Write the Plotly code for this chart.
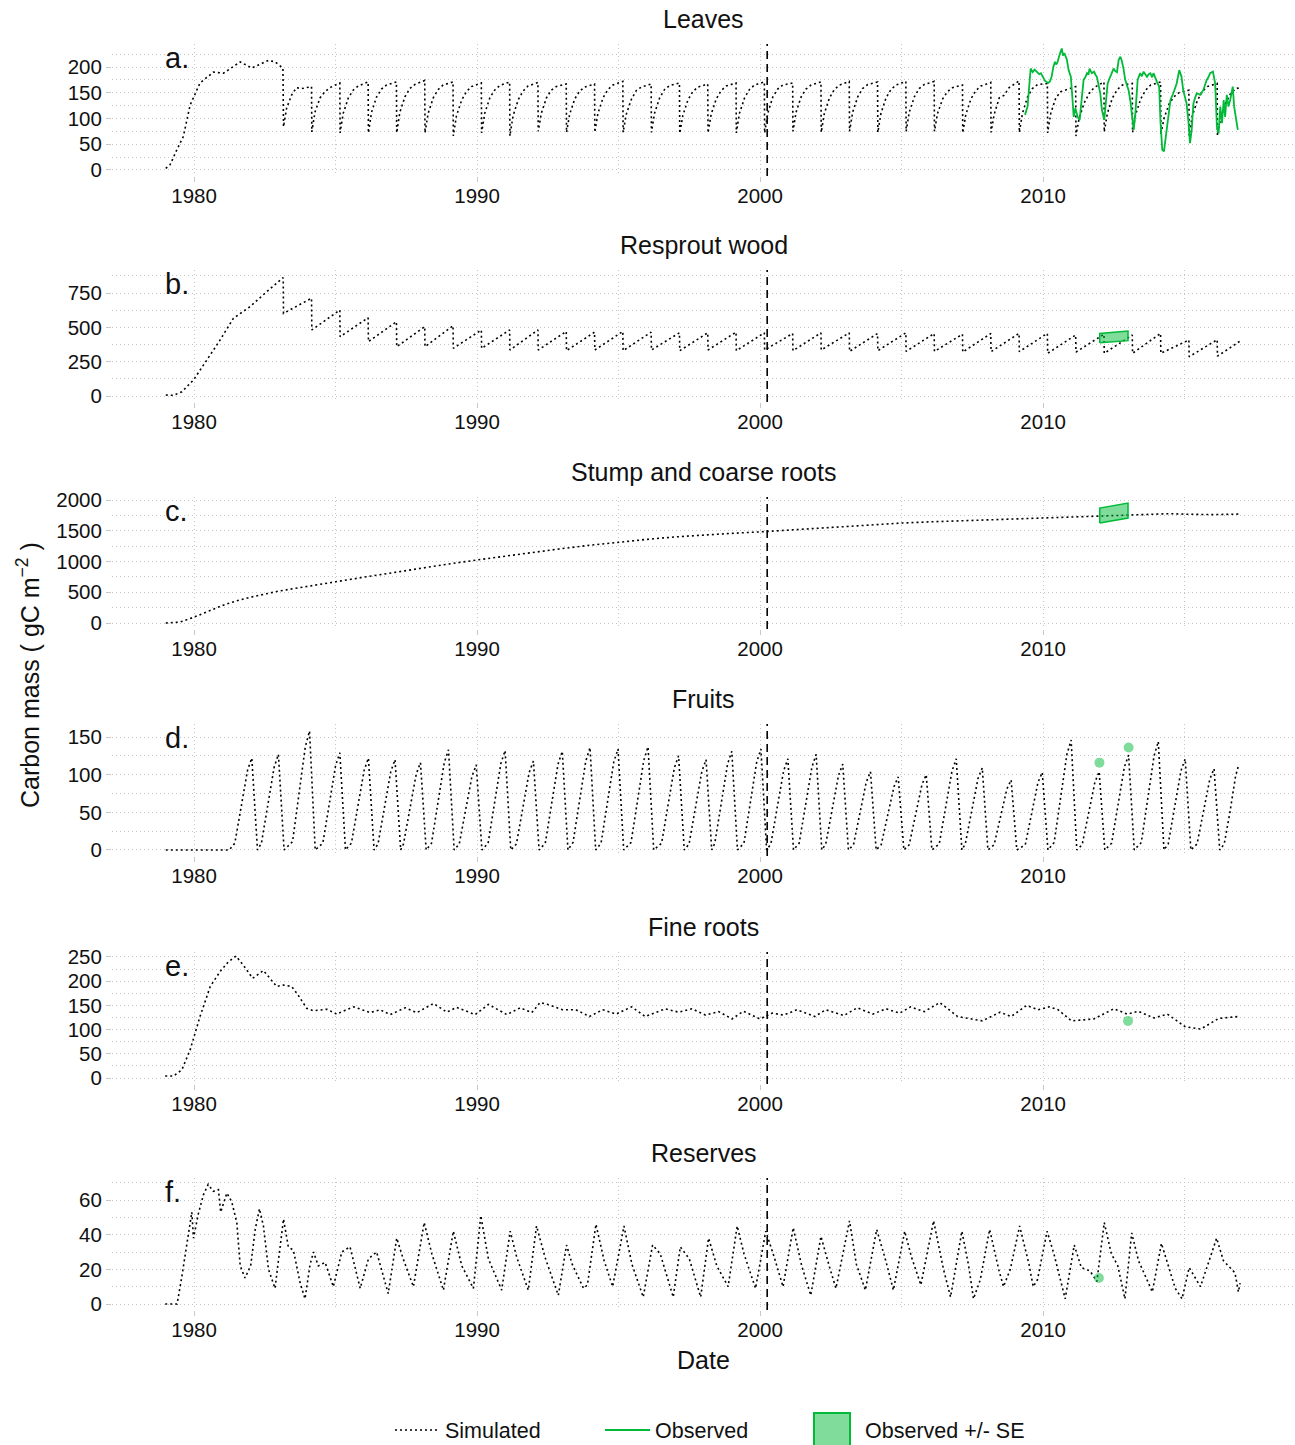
import plotly.graph_objects as go

# ------------------------------------------------------------------ data
# a. Leaves (simulated): establishment phase, then yearly cycles (drop ~ Y+0.15)
leaves_init_t = [1979.0, 1979.15, 1979.39, 1979.62, 1979.86, 1980.21, 1980.68, 1981.04,
                 1981.63, 1982.04, 1982.63, 1982.86, 1983.14]
leaves_init_v = [3, 10, 39, 65, 126, 169, 190, 188, 210, 198, 213, 210, 198]
cycle_years = list(range(1983, 2017))
leaves_phase = [0.16, 0.27, 0.45, 0.62, 0.80]
leaves_low = [84, 74, 72, 72, 72, 72, 66, 72, 66, 75, 73, 73, 73, 73, 71, 72, 72, 72, 75, 73,
              75, 73, 75, 75, 72, 73, 73, 72, 66, 74, 73, 69, 67, 67]
leaves_r1 = [120, 112, 110, 112, 112, 110, 105, 110, 105, 110, 108, 110, 108, 110, 106, 108, 110,
             110, 112, 110, 112, 110, 112, 110, 108, 108, 110, 110, 100, 110, 108, 100, 105, 100]
leaves_r2 = [146, 140, 140, 142, 142, 140, 135, 140, 136, 140, 138, 140, 137, 140, 136, 138, 140,
             142, 142, 140, 142, 140, 142, 138, 138, 140, 142, 140, 130, 140, 138, 128, 135, 130]
leaves_r3 = [160, 152, 155, 157, 158, 156, 152, 155, 153, 155, 153, 156, 154, 156, 152, 154, 156,
             157, 157, 156, 158, 156, 158, 152, 154, 145, 158, 152, 148, 156, 155, 142, 152, 148]
leaves_r4 = [158, 160, 163, 165, 166, 165, 162, 164, 163, 162, 161, 165, 161, 164, 161, 163, 165,
             165, 165, 165, 166, 165, 166, 160, 163, 160, 166, 155, 160, 165, 165, 150, 162, 158]
leaves_peak = [162, 169, 171, 171, 174, 171, 169, 171, 170, 167, 167, 172, 167, 169, 167, 169, 171,
               169, 171, 172, 171, 172, 172, 165, 170, 173, 168, 162, 171, 168, 171, 155, 168, 160]
peak_phase = 1.15          # peak just before next year's drop
series_end = 2016.96

# a. Leaves (observed)
leaves_obs_t = [2009.36, 2009.45, 2009.56, 2009.63, 2009.70, 2009.76, 2009.86, 2009.92, 2009.98,
                2010.07, 2010.18, 2010.24, 2010.30, 2010.36, 2010.42, 2010.46, 2010.50, 2010.55,
                2010.60, 2010.66, 2010.70, 2010.75, 2010.84, 2010.90, 2010.98, 2011.04, 2011.08,
                2011.14, 2011.22, 2011.29, 2011.37, 2011.43, 2011.49, 2011.55, 2011.60, 2011.64,
                2011.72, 2011.80, 2011.85, 2011.90, 2012.02, 2012.08, 2012.16, 2012.20, 2012.28,
                2012.37, 2012.43, 2012.49, 2012.55, 2012.61, 2012.67, 2012.73, 2012.78, 2012.84,
                2012.90, 2013.02, 2013.08, 2013.14, 2013.20, 2013.26, 2013.34, 2013.43, 2013.49,
                2013.55, 2013.61, 2013.67, 2013.73, 2013.79, 2013.85, 2013.90, 2014.02, 2014.10,
                2014.15, 2014.21, 2014.27, 2014.34, 2014.42, 2014.50, 2014.60, 2014.66, 2014.72,
                2014.81, 2014.89, 2014.95, 2015.07, 2015.13, 2015.19, 2015.25, 2015.31, 2015.37,
                2015.43, 2015.55, 2015.66, 2015.72, 2015.78, 2015.84, 2015.90, 2016.00, 2016.08,
                2016.14, 2016.20, 2016.26, 2016.32, 2016.38, 2016.43, 2016.49, 2016.55, 2016.61,
                2016.66, 2016.70, 2016.75, 2016.82, 2016.88]
leaves_obs_v = [107, 123, 197, 190, 195, 192, 186, 188, 183, 173, 169, 172, 181, 200, 210, 205,
                208, 220, 227, 236, 222, 227, 214, 194, 181, 136, 103, 120, 103, 97, 136, 175,
                180, 188, 185, 197, 188, 191, 185, 181, 149, 116, 97, 123, 168, 181, 190, 197,
                192, 190, 214, 220, 212, 197, 175, 155, 135, 103, 78, 110, 175, 188, 182, 191,
                185, 181, 186, 188, 180, 188, 171, 162, 91, 39, 36, 65, 103, 136, 149, 160, 168,
                194, 181, 155, 129, 97, 52, 78, 129, 140, 149, 146, 155, 165, 175, 180, 188, 191,
                168, 84, 71, 123, 91, 136, 103, 146, 123, 136, 150, 162, 123, 97, 78]

# b. Resprout wood
wood_init_t = [1979.0, 1979.27, 1979.57, 1979.98, 1980.45, 1980.92, 1981.39, 1981.98, 1982.57, 1983.15]
wood_init_v = [7, 5, 31, 117, 262, 408, 566, 651, 760, 862]
wood_low = [602, 481, 432, 396, 359, 359, 347, 347, 335, 335, 330, 335, 330, 335, 330, 335, 330,
            335, 330, 335, 325, 330, 325, 325, 320, 323, 323, 311, 320, 311, 311, 311, 286, 290]
wood_peak = [712, 626, 570, 541, 505, 512, 481, 481, 481, 470, 465, 470, 465, 460, 460, 465, 460,
             455, 460, 460, 455, 460, 455, 450, 455, 456, 456, 444, 450, 444, 456, 408, 410, 400]

# c. Stump and coarse roots
stump_t = [1979.0, 1979.5, 1980.0, 1980.5, 1981.0, 1981.5, 1982.0, 1983.0, 1984.0, 1985.0, 1986.0,
           1987.0, 1988.0, 1989.0, 1990.0, 1991.0, 1992.0, 1993.0, 1994.0, 1995.0, 1996.0, 1997.0,
           1998.0, 1999.0, 2000.0, 2001.0, 2002.0, 2003.0, 2004.0, 2005.0, 2006.0, 2007.0, 2008.0,
           2009.0, 2010.0, 2011.0, 2012.0, 2013.0, 2014.0, 2014.5, 2015.0, 2015.5, 2016.0, 2016.96]
stump_v = [0, 15, 95, 190, 285, 360, 420, 520, 600, 670, 745, 820, 890, 960, 1025, 1090, 1150,
           1210, 1265, 1315, 1360, 1400, 1432, 1458, 1482, 1510, 1545, 1575, 1600, 1625, 1645,
           1662, 1678, 1695, 1712, 1728, 1745, 1760, 1775, 1778, 1770, 1760, 1762, 1772]

# observed +/- SE (wood and stump)
se_t = [2012.0, 2013.0]
wood_se_low = [388, 403]
wood_se_high = [456, 473]
stump_se_low = [1626, 1707]
stump_se_high = [1870, 1951]

# d. Fruits: peak dates/values with rising and falling shoulders
fruit_pre_t = [1979.0, 1981.24]
fruit_pre_v = [0, 0]
fruit_peak_t = [1982.04, 1982.98, 1984.08, 1985.15, 1986.16, 1987.10, 1988.00, 1988.99, 1989.97,
                1990.99, 1991.99, 1993.01, 1993.99, 1994.98, 1996.04, 1997.12, 1998.09, 1999.00,
                2000.03, 2000.98, 2001.98, 2002.92, 2003.90, 2004.88, 2005.87, 2006.93, 2007.85,
                2008.87, 2009.97, 2010.99, 2011.98, 2013.02, 2014.07, 2015.02, 2016.04]
fruit_peak_v = [122, 127, 158, 129, 122, 120, 116, 133, 113, 132, 118, 131, 136, 134, 137, 125, 120,
                131, 134, 121, 127, 114, 104, 97, 100, 121, 109, 93, 103, 146, 104, 126, 144, 121,
                108]
fruit_r1 = [9, 9, 11, 9, 9, 8, 8, 9, 8, 9, 8, 9, 10, 9, 10, 9, 8, 9, 9, 8, 9, 8, 7, 7, 7, 8, 8, 7,
            7, 10, 7, 9, 10, 8, 8]
fruit_r2 = [55, 57, 71, 58, 55, 54, 52, 60, 51, 59, 53, 59, 61, 60, 62, 56, 54, 59, 60, 54, 57, 51,
            47, 44, 45, 54, 49, 42, 46, 66, 47, 57, 65, 54, 49]
fruit_r3 = [106, 110, 137, 112, 106, 104, 101, 116, 98, 115, 103, 114, 118, 117, 119, 109, 104, 114,
            117, 105, 110, 99, 90, 84, 87, 105, 95, 81, 90, 127, 90, 110, 125, 105, 94]
fruit_f1 = [61, 64, 79, 65, 61, 60, 58, 67, 57, 66, 59, 66, 68, 67, 69, 63, 60, 66, 67, 61, 64, 57,
            52, 49, 50, 61, 55, 47, 52, 73, 52, 63, 72, 61, 54]
fruit_phase = [-0.60, -0.38, -0.15, 0.0, 0.09, 0.20]
fruit_tail_t = [2016.40, 2016.60, 2016.80, 2016.91]
fruit_tail_v = [8, 50, 98, 113]
fruit_obs_t = [2011.99, 2013.02]
fruit_obs_v = [116, 136]

# e. Fine roots
root_t = [1978.98, 1979.27, 1979.57, 1979.86, 1980.21, 1980.57, 1980.92, 1981.21, 1981.48, 1981.74,
          1982.07, 1982.45, 1982.92, 1983.15, 1983.45, 1983.68, 1983.98, 1984.21, 1984.69, 1985.04,
          1985.34, 1985.65, 1986.22, 1986.57, 1986.93, 1987.46, 1987.87, 1988.46, 1988.93, 1989.28,
          1989.93, 1990.40, 1991.05, 1991.52, 1991.93, 1992.23, 1992.55, 1993.02, 1993.49, 1993.97,
          1994.44, 1994.91, 1995.46, 1995.94, 1996.65, 1997.12, 1997.59, 1998.07, 1998.54, 1999.01,
          1999.41, 1999.99, 2000.43, 2000.83, 2001.30, 2001.93, 2002.32, 2002.96, 2003.43, 2003.98,
          2004.45, 2004.93, 2005.32, 2005.80, 2006.35, 2006.98, 2007.85, 2008.48, 2008.87, 2009.42,
          2009.82, 2010.21, 2010.53, 2011.00, 2011.79, 2012.50, 2012.97, 2013.36, 2013.92, 2014.39,
          2015.02, 2015.57, 2016.20, 2016.91]
root_v = [4, 4, 17, 58, 127, 189, 220, 240, 252, 233, 206, 222, 189, 192, 189, 171, 144, 139, 142,
          132, 140, 147, 135, 141, 131, 145, 135, 154, 136, 146, 131, 152, 131, 145, 135, 156, 151,
          141, 141, 127, 141, 132, 147, 127, 143, 136, 143, 130, 137, 122, 138, 122, 134, 130, 141,
          127, 141, 129, 145, 132, 143, 134, 147, 137, 156, 127, 118, 136, 127, 150, 141, 147, 141,
          118, 122, 143, 132, 138, 124, 132, 106, 101, 123, 127]
root_obs_t = [2013.0]
root_obs_v = [118]

# f. Reserves
res_t = [1978.98, 1979.40, 1979.57, 1979.74, 1979.92, 1979.98, 1980.15, 1980.33, 1980.50, 1980.68,
         1980.86, 1980.94, 1981.16, 1981.33, 1981.51, 1981.63, 1981.80, 1982.00, 1982.16, 1982.31,
         1982.45, 1982.63, 1982.86, 1983.04, 1983.16, 1983.33, 1983.51, 1983.75, 1983.92, 1984.10,
         1984.22, 1984.39, 1984.63, 1984.92, 1985.22, 1985.51, 1985.87, 1986.16, 1986.45, 1986.86,
         1987.16, 1987.39, 1987.75, 1988.13, 1988.40, 1988.81, 1989.16, 1989.46, 1989.87, 1990.13,
         1990.40, 1990.87, 1991.17, 1991.40, 1991.81, 1992.10, 1992.40, 1992.87, 1993.16, 1993.36,
         1993.76, 1993.90, 1994.20, 1994.49, 1994.79, 1995.19, 1995.47, 1995.87, 1996.20, 1996.47,
         1996.93, 1997.18, 1997.50, 1997.90, 1998.18, 1998.47, 1998.87, 1999.19, 1999.43, 1999.84,
         2000.20, 2000.50, 2000.81, 2001.17, 2001.47, 2001.79, 2002.15, 2002.44, 2002.68, 2003.16,
         2003.40, 2003.72, 2004.12, 2004.44, 2004.71, 2005.11, 2005.35, 2005.68, 2006.13, 2006.48,
         2006.73, 2007.13, 2007.37, 2007.54, 2007.78, 2008.11, 2008.43, 2008.60, 2008.84, 2009.17,
         2009.50, 2009.65, 2009.80, 2010.14, 2010.38, 2010.78, 2011.10, 2011.35, 2011.66, 2011.90,
         2012.16, 2012.41, 2012.64, 2012.89, 2013.13, 2013.37, 2013.86, 2014.18, 2014.43, 2014.67,
         2014.91, 2015.16, 2015.56, 2016.13, 2016.37, 2016.78, 2016.90, 2016.96]
res_v = [0, 0, 16, 35, 53, 38, 52, 63, 69, 65, 66, 53, 64, 59, 47, 22, 15, 22, 43, 55, 45, 20, 9,
         33, 49, 33, 31, 12, 3, 23, 30, 22, 24, 10, 30, 33, 9, 26, 30, 6, 38, 26, 10, 47, 29, 8, 42,
         22, 9, 51, 26, 8, 42, 27, 8, 45, 27, 5, 34, 23, 9, 11, 46, 25, 10, 45, 23, 4, 34, 29, 4,
         33, 26, 4, 38, 22, 10, 45, 29, 9, 42, 27, 10, 44, 22, 5, 39, 22, 9, 48, 23, 8, 43, 25, 8,
         42, 27, 11, 48, 20, 4, 42, 22, 3, 14, 43, 20, 10, 20, 45, 23, 10, 14, 42, 29, 3, 34, 21,
         19, 13, 47, 29, 22, 3, 41, 25, 7, 35, 22, 9, 3, 21, 10, 38, 25, 18, 7, 12]
res_obs_t = [2011.97]
res_obs_v = [15]

titles = ["Leaves", "Resprout wood", "Stump and coarse roots", "Fruits", "Fine roots", "Reserves"]
letters = ["a.", "b.", "c.", "d.", "e.", "f."]
y_ticks = [[0, 50, 100, 150, 200], [0, 250, 500, 750], [0, 500, 1000, 1500, 2000],
           [0, 50, 100, 150], [0, 50, 100, 150, 200, 250], [0, 20, 40, 60]]
y_minor = [[25, 75, 125, 175, 225], [125, 375, 625, 875], [250, 750, 1250, 1750],
           [25, 75, 125], [25, 75, 125, 175, 225], [10, 30, 50, 70]]
x_ticks = [1980, 1990, 2000, 2010]
x_minor = [1985, 1995, 2005, 2015]
cut_date = 2000.25

# ------------------------------------------------------------------ assemble series
leaves_t, leaves_v = list(leaves_init_t), list(leaves_init_v)
for i, yr in enumerate(cycle_years):
    vals = [leaves_low[i], leaves_r1[i], leaves_r2[i], leaves_r3[i], leaves_r4[i]]
    for ph, v in zip(leaves_phase, vals):
        leaves_t.append(yr + ph)
        leaves_v.append(v)
    leaves_t.append(yr + peak_phase if yr < 2016 else series_end)
    leaves_v.append(leaves_peak[i])

wood_t, wood_v = list(wood_init_t), list(wood_init_v)
for i, yr in enumerate(cycle_years):
    wood_t.append(yr + 0.16)
    wood_v.append(wood_low[i])
    wood_t.append(yr + peak_phase if yr < 2016 else series_end)
    wood_v.append(wood_peak[i])

fruit_t, fruit_v = list(fruit_pre_t), list(fruit_pre_v)
for i, pt in enumerate(fruit_peak_t):
    vals = [fruit_r1[i], fruit_r2[i], fruit_r3[i], fruit_peak_v[i], fruit_f1[i], 0]
    for ph, v in zip(fruit_phase, vals):
        fruit_t.append(pt + ph)
        fruit_v.append(v)
fruit_t += fruit_tail_t
fruit_v += fruit_tail_v

sim = [(leaves_t, leaves_v), (wood_t, wood_v), (stump_t, stump_v),
       (fruit_t, fruit_v), (root_t, root_v), (res_t, res_v)]

# ------------------------------------------------------------------ figure
W, H = 1295, 1445
FONT = "Liberation Sans, Arial, sans-serif"
GREEN = "#00BA38"
GREEN_FILL = "rgba(0,186,56,0.5)"
GRID = "#c4c4c4"
GRID_DASH = "1px,3px"
panel_px = [(44, 176), (270, 402), (497, 629), (724, 856), (952, 1084), (1178, 1310)]
y_ranges = [[-11.7, 244.7], [-43.7, 917.7], [-97.6, 2049], [-8.0, 167.3], [-12.4, 260.3],
            [-3.46, 72.7]]
x_range = [1977.1, 2018.9]
x_dom = [112 / W, 1.0]


def py(px):
    return 1 - px / H


def xid(i):
    return "x" if i == 0 else f"x{i + 1}"


def yid(i):
    return "y" if i == 0 else f"y{i + 1}"


fig = go.Figure()
for i, (t, v) in enumerate(sim):
    fig.add_trace(go.Scatter(x=t, y=v, mode="lines", name="Simulated",
                             line=dict(color="black", width=1.6, dash="2px,3px"),
                             showlegend=(i == 0), legendgroup="sim", legend="legend",
                             xaxis=xid(i), yaxis=yid(i)))

fig.add_trace(go.Scatter(x=leaves_obs_t, y=leaves_obs_v, mode="lines", name="Observed",
                         line=dict(color=GREEN, width=1.8), legendgroup="obs", legend="legend",
                         xaxis="x", yaxis="y"))

for k, (lo, hi) in enumerate([(wood_se_low, wood_se_high), (stump_se_low, stump_se_high)]):
    xs = se_t + se_t[::-1] + [se_t[0]]
    ys = lo + hi[::-1] + [lo[0]]
    fig.add_trace(go.Scatter(x=xs, y=ys, mode="lines", fill="toself", fillcolor=GREEN_FILL,
                             line=dict(color=GREEN, width=1.5), name="Observed +/- SE",
                             showlegend=False, legendgroup="se",
                             xaxis=xid(k + 1), yaxis=yid(k + 1)))

for ax, (t, v) in zip([3, 4, 5], [(fruit_obs_t, fruit_obs_v), (root_obs_t, root_obs_v),
                                 (res_obs_t, res_obs_v)]):
    fig.add_trace(go.Scatter(x=t, y=v, mode="markers", marker=dict(color=GREEN_FILL, size=10),
                             showlegend=False, name="Observed", legendgroup="obs",
                             xaxis=xid(ax), yaxis=yid(ax)))

# legend entry for the SE ribbon (its large key box is drawn as a shape below)
fig.add_trace(go.Scatter(x=[None], y=[None], mode="markers", name="Observed +/- SE",
                         marker=dict(symbol="square", size=14, color="rgba(0,0,0,0)",
                                     line=dict(width=0)),
                         legendgroup="se", showlegend=True, legend="legend2",
                         xaxis="x2", yaxis="y2"))

layout = dict(width=W, height=H, margin=dict(l=0, r=0, t=0, b=0, autoexpand=False),
              paper_bgcolor="white", plot_bgcolor="white",
              font=dict(family=FONT, color="#111111"))
annotations = []
shapes = []
for i in range(6):
    top, bot = panel_px[i]
    xa = "xaxis" if i == 0 else f"xaxis{i + 1}"
    ya = "yaxis" if i == 0 else f"yaxis{i + 1}"
    layout[xa] = dict(domain=x_dom, range=x_range, anchor=yid(i),
                      tickvals=x_ticks, ticktext=[str(x) for x in x_ticks],
                      showgrid=True, gridcolor=GRID, griddash=GRID_DASH, gridwidth=1,
                      minor=dict(tickvals=x_minor, showgrid=True, gridcolor=GRID,
                                 griddash=GRID_DASH, gridwidth=1),
                      ticks="outside", ticklen=5, tickcolor="#c8c8c8",
                      ticklabelstandoff=-4,
                      zeroline=False, showline=False,
                      tickfont=dict(size=20.5, family=FONT, color="#111111"))
    layout[ya] = dict(domain=[py(bot), py(top)], range=y_ranges[i], anchor=xid(i),
                      tickvals=y_ticks[i], ticktext=[str(v) for v in y_ticks[i]],
                      showgrid=True, gridcolor=GRID, griddash=GRID_DASH, gridwidth=1,
                      minor=dict(tickvals=y_minor[i], showgrid=True, gridcolor=GRID,
                                 griddash=GRID_DASH, gridwidth=1),
                      ticks="outside", ticklen=5, tickcolor="#c8c8c8",
                      zeroline=False, showline=False,
                      tickfont=dict(size=20.5, family=FONT, color="#111111"))
    annotations.append(dict(text=titles[i], x=(112 + 1295) / 2 / W, y=py(top - 25),
                            xref="paper", yref="paper", showarrow=False,
                            xanchor="center", yanchor="middle",
                            font=dict(size=25, family=FONT, color="#111111")))
    annotations.append(dict(text=letters[i], x=163 / W, y=py(top + 14),
                            xref="paper", yref="paper", showarrow=False,
                            xanchor="left", yanchor="middle",
                            font=dict(size=29, family=FONT, color="#111111")))
    shapes.append(dict(type="line", xref=xid(i), yref=yid(i) + " domain",
                       x0=cut_date, x1=cut_date, y0=0, y1=1,
                       line=dict(color="black", width=1.6, dash="8px,5px")))

# key box for "Observed +/- SE"
shapes.append(dict(type="rect", xref="paper", yref="paper",
                   x0=814 / W, x1=850 / W, y0=py(1446), y1=py(1413),
                   fillcolor=GREEN_FILL, line=dict(color=GREEN, width=2)))

annotations.append(dict(text="Carbon mass ( gC m<sup>\u22122</sup> )", x=28 / W, y=py(675),
                        xref="paper", yref="paper", showarrow=False, textangle=-90,
                        xanchor="center", yanchor="middle",
                        font=dict(size=25, family=FONT, color="#111111")))
annotations.append(dict(text="Date", x=(112 + 1295) / 2 / W, y=py(1360),
                        xref="paper", yref="paper", showarrow=False,
                        xanchor="center", yanchor="middle",
                        font=dict(size=25, family=FONT, color="#111111")))
layout["annotations"] = annotations
layout["shapes"] = shapes
legend_font = dict(size=21.5, family=FONT, color="#111111")
layout["legend"] = dict(orientation="h", x=390 / W, xanchor="left", y=py(1430),
                        yanchor="middle", font=legend_font,
                        itemwidth=45, entrywidth=150, entrywidthmode="pixels",
                        traceorder="normal", bgcolor="rgba(0,0,0,0)")
layout["legend2"] = dict(orientation="h", x=810 / W, xanchor="left", y=py(1430),
                         yanchor="middle", font=legend_font, itemwidth=45,
                         bgcolor="rgba(0,0,0,0)")
fig.update_layout(**layout)
fig.write_html("out.html")
